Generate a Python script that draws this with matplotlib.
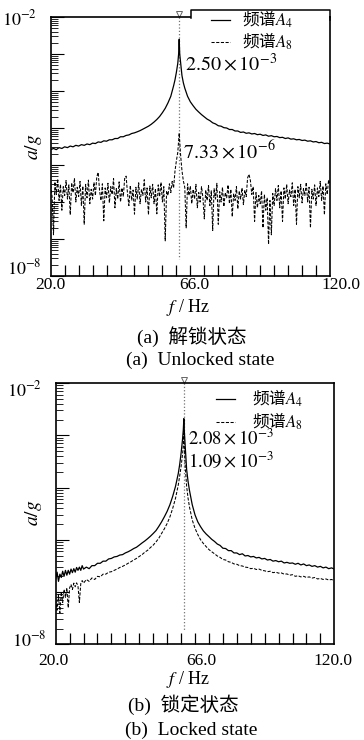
import numpy as np
import matplotlib
matplotlib.use('Agg')
import matplotlib.pyplot as plt
import matplotlib.transforms as mtransforms
from matplotlib.ticker import LogLocator, NullFormatter, NullLocator
from matplotlib.patches import Rectangle
from matplotlib.lines import Line2D

plt.rcParams['font.family'] = ['Liberation Serif', 'Noto Sans CJK SC']
plt.rcParams['mathtext.fontset'] = 'stix'

W, H = 364, 740

# ---- data ----
peak_freq = 66.0
peak_fine = [64.5, 65, 65.5, 65.8, 66, 66.2, 66.5, 67, 67.5, 68]

# (a) unlocked state
freq_a4_unlocked = np.concatenate([np.arange(20, 65), peak_fine, np.arange(69, 121)])
a4_unlocked = [
    2.6e-6, 2.8e-6, 2.6e-6, 2.95e-6, 2.8e-6, 3.1e-6, 2.95e-6, 3.25e-6, 3.1e-6, 3.4e-6,
    3.25e-6, 3.55e-6, 3.4e-6, 3.7e-6, 3.55e-6, 3.9e-6, 3.8e-6, 4.2e-6, 4.1e-6, 4.5e-6,
    4.4e-6, 4.8e-6, 4.8e-6, 5.2e-6, 5.2e-6, 5.8e-6, 5.8e-6, 6.3e-6, 6.5e-6, 7.1e-6,
    7.4e-6, 7.9e-6, 8.5e-6, 9.3e-6, 1.02e-5, 1.12e-5, 1.26e-5, 1.45e-5, 1.7e-5, 2.05e-5,
    2.6e-5, 3.4e-5, 4.8e-5, 7.2e-5, 1.38e-4,
    2.0e-4, 3.2e-4, 5.6e-4, 1.0e-3, 2.5e-3, 1.0e-3, 6.0e-4, 2.6e-4, 1.66e-4, 1.2e-4,
    7.2e-5, 5.1e-5, 4.0e-5, 3.2e-5, 2.7e-5, 2.3e-5, 2.0e-5, 1.74e-5, 1.58e-5, 1.38e-5,
    1.29e-5, 1.15e-5, 1.12e-5, 1.02e-5, 1.0e-5, 9.1e-6, 9.1e-6, 8.3e-6, 8.3e-6, 7.6e-6,
    7.8e-6, 7.2e-6, 7.4e-6, 6.9e-6, 7.1e-6, 6.6e-6, 6.8e-6, 6.3e-6, 6.5e-6, 6.0e-6,
    6.2e-6, 5.8e-6, 5.9e-6, 5.5e-6, 5.6e-6, 5.2e-6, 5.4e-6, 5.0e-6, 5.1e-6, 4.8e-6,
    4.9e-6, 4.6e-6, 4.7e-6, 4.4e-6, 4.5e-6, 4.2e-6, 4.3e-6, 4.0e-6, 4.1e-6, 3.8e-6,
    3.9e-6, 3.7e-6,
]

freq_a8_unlocked = np.arange(20, 120.5, 0.5)
a8_unlocked = [
    2.8e-7, 1.4e-7, 1.3e-8, 3.5e-7, 1.6e-7, 4.2e-7, 1.1e-7, 3.0e-7, 6.0e-8, 2.6e-7,
    1.5e-7, 3.8e-7, 1.2e-7, 2.9e-7, 4.5e-8, 3.3e-7, 1.8e-7, 4.4e-7, 1.0e-7, 2.5e-7,
    1.4e-7, 3.6e-7, 8.0e-8, 2.7e-7, 2.5e-8, 3.0e-7, 1.3e-7, 3.9e-7, 9.0e-8, 2.2e-7,
    1.2e-7, 3.4e-7, 1.5e-7, 4.8e-7, 6.3e-7, 2.0e-7, 1.1e-7, 3.1e-7, 3.1e-8, 2.4e-7,
    1.3e-7, 3.2e-7, 9.5e-8, 2.6e-7, 1.6e-7, 4.3e-7, 7.0e-8, 2.3e-7, 1.2e-7, 3.5e-7,
    1.0e-7, 2.4e-7, 1.4e-7, 4.5e-7, 5.0e-7, 1.7e-7, 8.0e-8, 2.8e-7, 1.1e-7, 2.1e-7,
    4.7e-8, 2.5e-7, 1.2e-7, 3.3e-7, 9.0e-8, 2.2e-7, 1.5e-7, 4.0e-7, 1.0e-7, 2.4e-7,
    4.5e-8, 2.7e-7, 1.3e-7, 3.0e-7, 9.0e-8, 2.3e-7, 4.8e-8, 2.9e-7, 1.4e-7, 3.4e-7,
    1.0e-7, 2.6e-7, 8.9e-9, 2.0e-7, 1.5e-7, 3.1e-7, 1.8e-7, 3.6e-7, 2.4e-7, 6.9e-7,
    1.3e-6, 2.2e-6, 7.3e-6, 1.9e-6, 7.0e-7, 3.7e-7, 2.5e-7, 2.0e-8, 3.1e-7, 1.5e-7,
    2.7e-7, 9.0e-8, 2.2e-7, 1.2e-7, 3.0e-7, 7.0e-8, 1.8e-7, 1.0e-7, 2.6e-7, 1.3e-7,
    3.5e-8, 2.1e-7, 1.1e-7, 2.8e-7, 8.0e-8, 2.0e-7, 1.7e-8, 2.3e-7, 1.2e-7, 3.2e-7,
    2.5e-8, 1.9e-7, 1.0e-7, 2.5e-7, 7.5e-8, 1.8e-7, 1.3e-7, 2.9e-7, 9.0e-8, 2.2e-7,
    4.0e-8, 1.7e-7, 1.1e-7, 2.6e-7, 6.5e-8, 2.0e-7, 1.2e-7, 2.4e-7, 8.5e-8, 2.1e-7,
    1.4e-7, 4.5e-7, 5.6e-7, 3.8e-7, 1.6e-7, 2.6e-7, 3.0e-8, 1.8e-7, 7.0e-8, 1.5e-7,
    9.0e-8, 2.0e-7, 2.0e-8, 1.6e-7, 6.0e-8, 1.3e-7, 7.2e-9, 1.1e-7, 1.3e-8, 1.7e-7,
    8.0e-8, 2.3e-7, 1.1e-7, 2.8e-7, 7.0e-8, 2.0e-7, 3.0e-8, 2.4e-7, 1.2e-7, 3.0e-7,
    9.0e-8, 2.1e-7, 1.4e-7, 3.3e-7, 8.0e-8, 2.2e-7, 2.5e-8, 2.6e-7, 1.3e-7, 3.0e-7,
    9.5e-8, 2.3e-7, 1.5e-7, 3.4e-7, 1.0e-7, 2.5e-7, 2.0e-8, 2.2e-7, 1.2e-7, 2.9e-7,
    8.0e-8, 2.4e-7, 1.4e-7, 3.6e-7, 1.1e-7, 2.7e-7, 4.5e-8, 3.1e-7, 1.6e-7, 4.0e-7,
    2.9e-7,
]

# (b) locked state
freq_locked = np.concatenate([np.arange(20, 30, 0.5), np.arange(30, 65), peak_fine, np.arange(69, 121)])
a4_locked = [
    1.8e-6, 2.4e-6, 1.6e-6, 2.2e-6, 1.9e-6, 2.5e-6, 2.0e-6, 2.6e-6, 2.1e-6, 2.6e-6,
    2.2e-6, 2.75e-6, 2.35e-6, 2.8e-6, 2.4e-6, 2.95e-6, 2.6e-6, 3.0e-6, 2.6e-6, 3.2e-6,
    2.75e-6, 3.0e-6, 2.8e-6, 3.2e-6, 3.2e-6, 3.55e-6, 3.55e-6, 3.9e-6, 3.9e-6, 4.3e-6,
    4.4e-6, 4.7e-6, 4.8e-6, 5.1e-6, 5.2e-6, 5.6e-6, 5.9e-6, 6.3e-6, 6.8e-6, 7.2e-6,
    7.9e-6, 8.7e-6, 9.5e-6, 1.05e-5, 1.17e-5, 1.32e-5, 1.5e-5, 1.8e-5, 2.2e-5, 2.75e-5,
    3.5e-5, 4.7e-5, 6.8e-5, 1.05e-4, 1.86e-4,
    2.75e-4, 4.5e-4, 8.1e-4, 1.26e-3, 2.08e-3, 1.12e-3, 6.0e-4, 2.2e-4, 1.32e-4, 8.9e-5,
    4.7e-5, 3.0e-5, 2.2e-5, 1.78e-5, 1.48e-5, 1.29e-5, 1.15e-5, 1.02e-5, 9.3e-6, 8.3e-6,
    7.8e-6, 6.9e-6, 6.8e-6, 6.2e-6, 6.2e-6, 5.6e-6, 5.6e-6, 5.2e-6, 5.4e-6, 4.9e-6,
    5.0e-6, 4.7e-6, 4.8e-6, 4.5e-6, 4.6e-6, 4.3e-6, 4.4e-6, 4.1e-6, 4.2e-6, 3.9e-6,
    4.0e-6, 3.8e-6, 3.9e-6, 3.6e-6, 3.7e-6, 3.55e-6, 3.6e-6, 3.4e-6, 3.55e-6, 3.3e-6,
    3.45e-6, 3.2e-6, 3.3e-6, 3.1e-6, 3.2e-6, 3.0e-6, 3.1e-6, 2.9e-6, 3.0e-6, 2.8e-6,
    2.9e-6, 2.75e-6,
]
a8_locked = [
    7.1e-7, 4.5e-7, 8.9e-7, 4.0e-7, 1.0e-6, 6.3e-7, 1.12e-6, 7.9e-7, 1.2e-6, 5.0e-7,
    1.2e-6, 1.4e-6, 1.12e-6, 1.48e-6, 1.26e-6, 1.5e-6, 1.3e-6, 6.3e-7, 1.45e-6, 1.66e-6,
    1.48e-6, 1.74e-6, 1.6e-6, 1.86e-6, 1.74e-6, 2.0e-6, 1.95e-6, 2.2e-6, 2.2e-6, 2.4e-6,
    2.45e-6, 2.6e-6, 2.75e-6, 2.95e-6, 3.1e-6, 3.3e-6, 3.55e-6, 3.8e-6, 4.1e-6, 4.4e-6,
    4.8e-6, 5.2e-6, 5.8e-6, 6.3e-6, 7.1e-6, 7.9e-6, 9.1e-6, 1.07e-5, 1.32e-5, 1.62e-5,
    2.05e-5, 2.75e-5, 4.0e-5, 6.2e-5, 1.12e-4,
    1.66e-4, 2.5e-4, 4.2e-4, 6.3e-4, 1.09e-3, 5.6e-4, 2.5e-4, 1.05e-4, 6.3e-5, 4.3e-5,
    2.4e-5, 1.66e-5, 1.26e-5, 1.0e-5, 8.5e-6, 7.4e-6, 6.5e-6, 5.9e-6, 5.4e-6, 4.9e-6,
    4.6e-6, 4.2e-6, 4.1e-6, 3.8e-6, 3.7e-6, 3.45e-6, 3.4e-6, 3.2e-6, 3.15e-6, 3.0e-6,
    2.95e-6, 2.8e-6, 2.85e-6, 2.7e-6, 2.75e-6, 2.6e-6, 2.55e-6, 2.45e-6, 2.5e-6, 2.35e-6,
    2.4e-6, 2.3e-6, 2.32e-6, 2.2e-6, 2.22e-6, 2.1e-6, 2.15e-6, 2.0e-6, 2.05e-6, 1.95e-6,
    2.0e-6, 1.9e-6, 1.95e-6, 1.85e-6, 1.9e-6, 1.78e-6, 1.82e-6, 1.74e-6, 1.78e-6, 1.7e-6,
    1.74e-6, 1.66e-6,
]

xtick_vals = [20, 66, 120]
xtick_text = ['20.0', '66.0', '120.0']
xtick_minor = [25, 30, 35, 40, 45, 50, 55, 60, 65, 70, 75, 80, 85, 90, 95, 100, 105, 110, 115]
legend_text = ['频谱$A_4$', '频谱$A_8$']


def fx(px):
    return px / W


def fy(py):
    return 1 - py / H


def setup_axes(ax, ylim, height_px, label_pad, label_shift):
    ax.set_xlim(20, 120)
    ax.set_ylim(*ylim)
    ax.set_yscale('log')
    for sp in ax.spines.values():
        sp.set_linewidth(1.2)

    ax.yaxis.set_major_locator(LogLocator(base=10, numticks=20))
    ax.yaxis.set_minor_locator(LogLocator(base=10, subs=np.arange(2, 10), numticks=20))
    ax.yaxis.set_major_formatter(NullFormatter())
    ax.yaxis.set_minor_formatter(NullFormatter())
    ax.tick_params(axis='y', which='major', direction='in', length=9.5, width=0.8, right=False)
    ax.tick_params(axis='y', which='minor', direction='in', length=5, width=0.6, right=False)

    ax.set_xticks(xtick_vals, labels=xtick_text)
    ax.xaxis.set_minor_locator(NullLocator())
    ax.tick_params(axis='x', which='major', direction='in', length=0, pad=label_pad, labelsize=12.5)
    for lab, dx in zip(ax.get_xticklabels(), label_shift):
        lab.set_transform(lab.get_transform() +
                          mtransforms.ScaledTranslation(dx / 100, 0, fig.dpi_scale_trans))

    # inward bottom ticks every 5 Hz, about 11 px long
    ax.vlines(xtick_minor, 0, 11 / height_px, transform=ax.get_xaxis_transform(),
              color='black', lw=0.9, clip_on=False, zorder=3)


def add_spectra(ax, f4, v4, f8, v8, line_bottom):
    l4, = ax.plot(f4, v4, '-', color='black', lw=0.9)
    l8, = ax.plot(f8, v8, color='black', lw=0.75, ls=(0, (3, 1.5)))
    ax.plot([peak_freq, peak_freq], [ax.get_ylim()[1], line_bottom],
            ls=':', color='0.45', lw=0.9, zorder=1)
    ax.plot([peak_freq], [1.012], marker='v', ms=4, mfc='white', mec='0.4',
            mew=0.7, transform=ax.get_xaxis_transform(), clip_on=False)
    return l4, l8


fig = plt.figure(figsize=(W / 100, H / 100), dpi=100)

# ---------------- (a) ----------------
ax_a = fig.add_axes([fx(50.7), fy(276), 279.3 / W, 259 / H])
setup_axes(ax_a, (1e-9, 1e-2), 259, 0.5, [0, 15, 11])
l4, l8 = add_spectra(ax_a, freq_a4_unlocked, a4_unlocked,
                     freq_a8_unlocked, a8_unlocked, 2.8e-9)

ax_a.text(-0.05, 0.99, '$10^{-2}$', transform=ax_a.transAxes,
          ha='right', va='center', fontsize=13)
ax_a.text(-0.032, 0.031, '$10^{-8}$', transform=ax_a.transAxes,
          ha='right', va='center', fontsize=13)

fig.text(fx(185), fy(65), r'$2.50\times10^{-3}$', ha='left', va='center', fontsize=14.5)
fig.text(fx(183), fy(152), r'$7.33\times10^{-6}$', ha='left', va='center', fontsize=14.5)

fig.text(fx(34), fy(147), '$a/g$', rotation=90, ha='center', va='center', fontsize=14)
fig.text(fx(188), fy(307), '$f$ / Hz', ha='center', va='center', fontsize=13)
fig.text(fx(192), fy(337), '(a)  解锁状态', ha='center', va='center', fontsize=14)
fig.text(fx(200), fy(360), '(a)  Unlocked state', ha='center', va='center', fontsize=14)

# legend box of (a) sits above the frame
fig.add_artist(Rectangle((fx(191), fy(46)), fx(329) - fx(191), fy(9.5) - fy(46),
                         transform=fig.transFigure, facecolor='white',
                         edgecolor='none', zorder=8))
fig.add_artist(Line2D([fx(191), fx(191), fx(330), fx(330)],
                      [fy(18), fy(9.5), fy(9.5), fy(20)],
                      transform=fig.transFigure, color='black', lw=1.1, zorder=9))
leg = fig.legend([l4, l8], legend_text, loc='upper left',
                 bbox_to_anchor=(fx(211), fy(9)), frameon=False,
                 prop={'family': 'Noto Sans CJK SC', 'size': 12},
                 handlelength=1.15, handletextpad=0.7, labelspacing=0.0,
                 borderpad=0, borderaxespad=0)
leg.set_zorder(10)

# ---------------- (b) ----------------
ax_b = fig.add_axes([fx(55.7), fy(644.3), 278.6 / W, 261.3 / H])
setup_axes(ax_b, (1e-7, 1e-2), 261.3, 6.5, [-2, 17, -1])
l4, l8 = add_spectra(ax_b, freq_locked, a4_locked, freq_locked, a8_locked, 1.9e-7)

ax_b.text(-0.05, 0.973, '$10^{-2}$', transform=ax_b.transAxes,
          ha='right', va='center', fontsize=13)
ax_b.text(-0.032, 0.016, '$10^{-8}$', transform=ax_b.transAxes,
          ha='right', va='center', fontsize=13)

fig.text(fx(188), fy(438), r'$2.08\times10^{-3}$', ha='left', va='center', fontsize=13.5)
fig.text(fx(188), fy(461), r'$1.09\times10^{-3}$', ha='left', va='center', fontsize=13.5)

fig.text(fx(33), fy(513), '$a/g$', rotation=90, ha='center', va='center', fontsize=14)
fig.text(fx(188), fy(680), '$f$ / Hz', ha='center', va='center', fontsize=13)
fig.text(fx(183), fy(705), '(b)  锁定状态', ha='center', va='center', fontsize=14)
fig.text(fx(191), fy(730), '(b)  Locked state', ha='center', va='center', fontsize=14)

leg = fig.legend([l4, l8], legend_text, loc='upper left',
                 bbox_to_anchor=(fx(216), fy(388)), frameon=False,
                 prop={'family': 'Noto Sans CJK SC', 'size': 12},
                 handlelength=1.15, handletextpad=1.0, labelspacing=0.1,
                 borderpad=0, borderaxespad=0)
leg.set_zorder(10)

fig.savefig('out.png', dpi=100)
